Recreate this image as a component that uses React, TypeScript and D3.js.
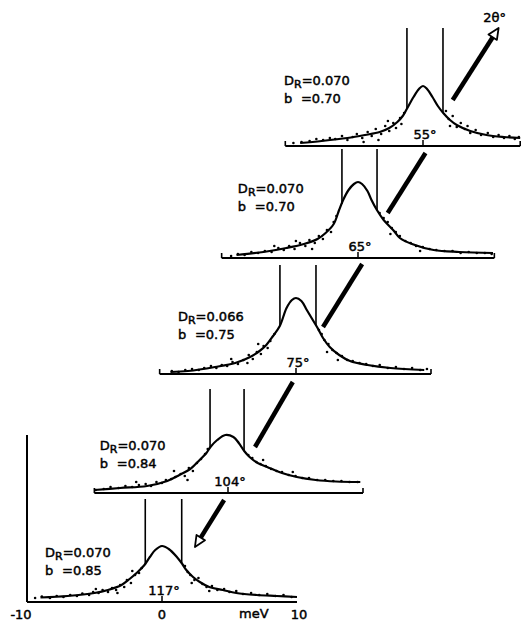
import React from 'react';
import * as d3 from 'd3';

// ---- data (meV, intensity in arbitrary units) ----
const ANGLES = ['117°', '104°', '75°', '65°', '55°'];
const DR_VALUES = ['0.070', '0.070', '0.066', '0.070', '0.070'];
const B_VALUES = ['0.85', '0.84', '0.75', '0.70', '0.70'];
const AXIS_EXTENT: [number, number][] = [[-10, 10], [-9.9, 10], [-10.1, 10], [-10.1, 10.1], [-10.2, 7.2]];

const FIT_117 = [[-9, 4.5], [-7, 6], [-5, 9], [-4, 12], [-3, 17], [-2.4, 23], [-1.8, 30], [-1.3, 37], [-0.9, 45], [-0.5, 52], [0, 56], [0.5, 53], [1.1, 45], [1.5, 38], [1.8, 32], [2.3, 25], [2.8, 20], [3.5, 15], [4.5, 12], [5.5, 9], [7, 7], [8.5, 6], [10, 5]];
const FIT_104 = [[-9.9, 3], [-8, 5], [-6, 7], [-4.5, 12], [-3.6, 18], [-2.8, 24], [-2.1, 33], [-1.6, 40], [-1.3, 46], [-0.8, 53], [-0.2, 58], [0.4, 56], [0.8, 50], [1.2, 42], [1.6, 36], [2.2, 30], [2.9, 26], [4, 20], [5.1, 16], [6.5, 13], [8, 11.5], [9.8, 11]];
const FIT_75 = [[-9.3, 2], [-8, 3], [-6, 7], [-4.5, 11], [-3.4, 17], [-2.7, 23], [-2.2, 29], [-1.7, 38], [-1.2, 48], [-0.7, 66], [-0.3, 74], [0, 76], [0.4, 73], [0.8, 64], [1.2, 55], [1.6, 46], [2.0, 36], [2.5, 27], [3.2, 19], [4, 13], [5.3, 9], [7, 6], [9.5, 4]];
const FIT_65 = [[-9, 3], [-7, 6], [-5.3, 10], [-4, 14], [-3, 19], [-2.4, 25], [-1.8, 34], [-1.4, 48], [-1.1, 58], [-0.7, 68], [-0.3, 74], [0, 76], [0.3, 74], [0.7, 67], [1.0, 58], [1.4, 48], [1.9, 38], [2.6, 28], [3.1, 20], [4, 14], [5.6, 8], [7.5, 6], [10, 5]];
const FIT_55 = [[-9.1, 3], [-7.5, 5], [-5.6, 8], [-4.3, 11], [-3.2, 14], [-2.5, 18], [-1.9, 24], [-1.5, 30], [-1.2, 37], [-0.7, 49], [-0.3, 57], [0, 60], [0.3, 57], [0.7, 49], [1.1, 40], [1.5, 33], [2, 26], [2.5, 21], [3.5, 15], [4.7, 11], [6, 9], [7.2, 8]];

const DOTS_117 = [[-9.4, 4], [-8.9, 5.5], [-8.3, 4], [-7.8, 6], [-7.3, 5], [-6.8, 7], [-6.3, 6], [-5.9, 8.5], [-5.4, 7], [-5.1, 10], [-4.7, 9], [-4.4, 12], [-4.0, 10], [-3.7, 14], [-3.4, 12], [-3.1, 17], [-2.8, 15], [-2.6, 22], [-2.3, 19], [-2.0, 27], [-1.7, 29], [-1.5, 34], [-4.9, 13], [-3.3, 9], [-2.2, 31], [1.7, 36], [1.9, 30], [2.1, 27], [2.4, 22], [2.7, 24], [3.0, 18], [3.3, 15], [3.7, 16], [4.1, 12], [4.6, 13], [5.0, 10], [5.5, 11], [6.0, 8], [6.6, 9], [7.2, 7], [7.8, 8], [8.4, 6], [9.0, 7], [9.6, 5], [2.2, 19], [3.5, 11]];
const DOTS_104 = [[-9.8, 3], [-9.2, 4], [-8.7, 6], [-8.1, 5], [-7.6, 7], [-7.1, 6], [-6.6, 8], [-6.1, 9], [-5.7, 7], [-5.3, 11], [-4.9, 10], [-4.6, 13], [-4.2, 14], [-3.9, 16], [-3.5, 19], [-3.2, 17], [-2.9, 25], [-2.6, 22], [-2.3, 30], [-2.0, 34], [-1.7, 39], [-1.5, 44], [-4.0, 22], [-3.0, 13], [-6.8, 11], [1.5, 38], [1.8, 35], [2.1, 31], [2.4, 29], [2.8, 27], [3.2, 24], [3.6, 22], [4.0, 21], [4.5, 18], [5.0, 17], [5.5, 15], [6.0, 15], [6.6, 13], [7.2, 13], [7.8, 12], [8.4, 12], [9.0, 11], [9.6, 11], [2.6, 33], [4.8, 21]];
const DOTS_75 = [[-9.2, 3], [-8.7, 2], [-8.2, 4], [-7.7, 5], [-7.2, 4], [-6.8, 6], [-6.3, 8], [-5.9, 6], [-5.5, 9], [-5.1, 8], [-4.7, 12], [-4.3, 10], [-3.9, 14], [-3.5, 19], [-3.2, 15], [-2.9, 22], [-2.6, 20], [-2.4, 28], [-2.1, 26], [-1.9, 33], [-1.6, 40], [-4.8, 15], [-2.8, 30], [-3.6, 11], [1.7, 44], [1.9, 40], [2.1, 34], [2.4, 30], [2.7, 24], [3.0, 21], [3.4, 18], [3.8, 14], [4.2, 13], [4.7, 11], [5.2, 10], [5.7, 8], [6.2, 9], [6.8, 6], [7.4, 7], [8.0, 5], [8.6, 6], [9.2, 4], [9.7, 5], [2.3, 22], [3.1, 14]];
const DOTS_65 = [[-9.4, 2], [-8.9, 4], [-8.4, 3], [-7.9, 6], [-7.4, 5], [-6.9, 7], [-6.4, 6], [-5.9, 10], [-5.5, 8], [-5.1, 12], [-4.7, 9], [-4.3, 15], [-3.9, 12], [-3.6, 18], [-3.2, 15], [-2.9, 22], [-2.6, 19], [-2.3, 28], [-2.0, 26], [-1.8, 36], [-1.6, 42], [-6.2, 12], [-3.4, 9], [-4.6, 17], [1.6, 45], [1.9, 40], [2.2, 36], [2.5, 30], [2.8, 26], [3.1, 22], [3.5, 17], [3.9, 15], [4.3, 12], [4.8, 11], [5.3, 9], [5.8, 8], [6.4, 7], [7.0, 7], [7.6, 5], [8.2, 6], [8.8, 5], [9.4, 5], [9.9, 4], [2.4, 24], [4.6, 7]];
const DOTS_55 = [[-9.6, 3], [-9, 4], [-8.4, 5], [-7.9, 7], [-7.4, 6], [-6.9, 8], [-6.5, 7], [-6, 10], [-5.6, 6], [-5.2, 9], [-4.9, 12], [-4.5, 8], [-4.1, 14], [-3.8, 10], [-3.5, 17], [-3.1, 12], [-2.8, 20], [-2.5, 15], [-2.2, 23], [-2, 18], [-1.7, 28], [-1.4, 33], [-4.4, 4], [-3.3, 6], [-2.6, 25], [-1.6, 22], [1.7, 35], [1.9, 27], [2.2, 30], [2.5, 19], [2.8, 23], [3.1, 17], [3.5, 13], [3.9, 16], [4.3, 11], [4.8, 13], [5.2, 9], [5.6, 11], [6, 8], [6.4, 10], [6.8, 7], [7.1, 9], [2.0, 20], [3.3, 20]];

const FITS = [FIT_117, FIT_104, FIT_75, FIT_65, FIT_55];
const DOTS = [DOTS_117, DOTS_104, DOTS_75, DOTS_65, DOTS_55];

// resolution (cut-off central peak) lines: [meV, top, bottom]
const RES_117 = [[-1.24, 103, 37], [1.46, 103, 38]];
const RES_104 = [[-1.33, 104, 45], [1.19, 104, 43]];
const RES_75 = [[-1.19, 109, 49], [1.48, 109, 48]];
const RES_65 = [[-1.19, 109, 54], [1.41, 109, 48]];
const RES_55 = [[-1.19, 118, 37], [1.48, 118, 33]];
const RES = [RES_117, RES_104, RES_75, RES_65, RES_55];

// arrows: [x1, y1, x2, y2, hasHead]
const ARROWS = [[4.6, 102, 2.44, 55, 1], [2.0, 46, 4.8, 111, 0], [2.0, 47, 4.9, 110, 0], [2.2, 45, 5.0, 105, 0], [2.2, 46, 5.6, 118, 1]];

const X_TICKS = [-10, 0, 10];
const X_UNIT = 'meV';
const SCAN_LABEL = '2θ°';

// ---- layout ----
const W = 528, H = 621;
const PANEL_POS = [[162, 602], [228, 493], [296, 374], [358, 258], [423, 146]];
const LABEL_POS = [[-8.67, 45], [-9.5, 43], [-8.75, 53], [-8.9, 65], [-10.3, 61]];
const FONT = "'DejaVu Sans', sans-serif";

export default function App() {
  const x = d3.scaleLinear().domain([-10, 10]).range([-135, 135]);
  const y = d3.scaleLinear().domain([0, 100]).range([0, -100]);
  const line = d3.line<number[]>().x(d => x(d[0])).y(d => y(d[1])).curve(d3.curveCatmullRom.alpha(0.5));
  const txt = { fontSize: 13, stroke: '#000', strokeWidth: 0.45, fill: '#000' } as const;

  return (
    <svg width={W} height={H} style={{ position: 'absolute', left: 0, top: 0, background: '#fff' }} fontFamily={FONT}>
      <rect width={W} height={H} fill="#fff" />
      {ANGLES.map((ang, i) => {
        const [cx, cy] = PANEL_POS[i];
        const [a0, a1] = AXIS_EXTENT[i];
        const [lx, ly] = LABEL_POS[i];
        const ar = ARROWS[i];
        const ax1 = x(ar[0]), ay1 = y(ar[1]), ax2 = x(ar[2]), ay2 = y(ar[3]);
        const len = Math.hypot(ax2 - ax1, ay2 - ay1);
        const ux = (ax2 - ax1) / len, uy = (ay2 - ay1) / len;
        const hl = 11, hw = 5;
        const bx = ax2 - ux * hl, by = ay2 - uy * hl;
        const lineEndX = ar[4] ? bx : ax2, lineEndY = ar[4] ? by : ay2;
        const isBottom = i === 0;
        return (
          <g key={ang} transform={`translate(${cx},${cy})`}>
            {/* axis */}
            <line x1={x(a0)} x2={x(a1)} y1={0} y2={0} stroke="#000" strokeWidth={2} />
            {!isBottom && (
              <>
                <line x1={x(a0)} x2={x(a0)} y1={0} y2={-5} stroke="#000" strokeWidth={1.6} />
                <line x1={x(a1)} x2={x(a1)} y1={0} y2={-5} stroke="#000" strokeWidth={1.6} />
              </>
            )}
            {isBottom && (
              <line x1={x(-10)} x2={x(-10)} y1={0} y2={y(167)} stroke="#000" strokeWidth={2} />
            )}
            <line x1={x(0)} x2={x(0)} y1={0} y2={-6} stroke="#000" strokeWidth={1.5} />
            <text x={x(0) + 2} y={-7} textAnchor="middle" {...txt}>{ang}</text>
            {/* dots */}
            {DOTS[i].map((d, j) => (
              <circle key={j} cx={x(d[0])} cy={y(d[1])} r={1.3} fill="#000" />
            ))}
            {/* fit curve */}
            <path d={line(FITS[i]) || ''} fill="none" stroke="#000" strokeWidth={2.2} />
            {/* resolution lines */}
            {RES[i].map((r, j) => (
              <line key={j} x1={x(r[0])} x2={x(r[0])} y1={y(r[1])} y2={y(r[2])} stroke="#000" strokeWidth={1.6} />
            ))}
            {/* labels */}
            <text x={x(lx)} y={y(ly)} {...txt}>
              D<tspan fontSize={11} dy={3}>R</tspan><tspan dy={-3}>=</tspan>{DR_VALUES[i]}
            </text>
            <text x={x(lx)} y={y(ly) + 18} {...txt}>b</text>
            <text x={x(lx) + 17} y={y(ly) + 18} {...txt}>={B_VALUES[i]}</text>
            {/* arrow */}
            <line x1={ax1} y1={ay1} x2={lineEndX} y2={lineEndY} stroke="#000" strokeWidth={4.5} />
            {ar[4] ? (
              <polygon
                points={`${ax2},${ay2} ${bx - uy * hw},${by + ux * hw} ${bx + uy * hw},${by - ux * hw}`}
                fill="#fff" stroke="#000" strokeWidth={1.8} strokeLinejoin="round"
              />
            ) : null}
            {i === ANGLES.length - 1 && (
              <text x={ax2 - 4} y={ay2 - 6} textAnchor="middle" {...txt}>{SCAN_LABEL}</text>
            )}
            {isBottom && X_TICKS.map(t => (
              <text key={t} x={x(t) + (t < 0 ? -6 : t > 0 ? 2 : 0)} y={17} textAnchor="middle" {...txt}>{t}</text>
            ))}
            {isBottom && <text x={x(6.8)} y={16} textAnchor="middle" {...txt}>{X_UNIT}</text>}
          </g>
        );
      })}
    </svg>
  );
}
